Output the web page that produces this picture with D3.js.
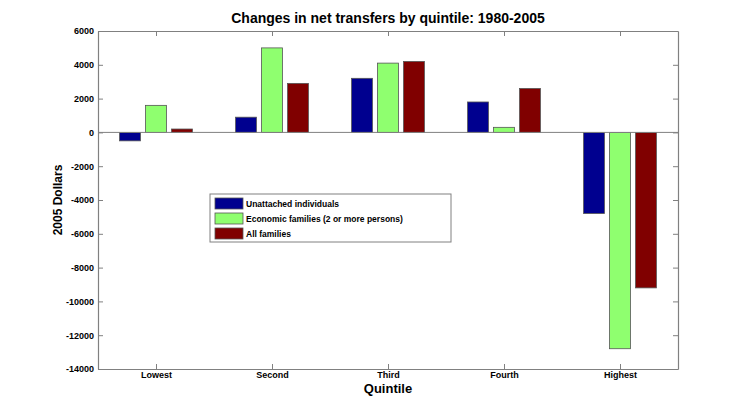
<!DOCTYPE html>
<html>
<head>
<meta charset="utf-8">
<script src="https://cdn.jsdelivr.net/npm/d3@7"></script>
<style>
  body { margin: 0; background: #fff; }
  text { font-family: "Liberation Sans", Arial, sans-serif; }
</style>
</head>
<body>
<svg id="chart" width="750" height="415"></svg>
<script>
// Data
const quintiles = ["Lowest", "Second", "Third", "Fourth", "Highest"];
const seriesNames = ["Unattached individuals", "Economic families (2 or more persons)", "All families"];
const unattached = [-500, 900, 3200, 1800, -4800];
const economicFamilies = [1600, 5000, 4100, 300, -12800];
const allFamilies = [200, 2900, 4200, 2600, -9200];
const yTicks = [6000, 4000, 2000, 0, -2000, -4000, -6000, -8000, -10000, -12000, -14000];
const colors = ["#00008f", "#8fff6f", "#800000"];

const seriesValues = [unattached, economicFamilies, allFamilies];

const svg = d3.select("#chart");
const margin = { top: 31, right: 72, bottom: 46, left: 98 },
    width = 750 - margin.left - margin.right,
    height = 415 - margin.top - margin.bottom;

const g = svg.append("g").attr("transform", `translate(${margin.left},${margin.top})`);

// scales: x runs 0.5 .. 5.5 like the original
const x = d3.scaleLinear().domain([0.5, 5.5]).range([0, width]);
const y = d3.scaleLinear().domain([-14000, 6000]).range([height, 0]);

// bar offsets inside a group (in quintile units)
const offset = d3.scalePoint().domain(d3.range(seriesNames.length)).range([-0.224, 0.224]);
const barW = x(0.68) - x(0.5);

const axisColor = "#808080";

// bars
seriesValues.forEach(function (vals, s) {
    g.append("g")
        .selectAll("rect")
        .data(vals)
        .enter()
        .append("rect")
        .attr("x", (d, i) => x(i + 1 + offset(s)) - barW / 2)
        .attr("y", (d) => y(Math.max(0, d)))
        .attr("width", barW)
        .attr("height", (d) => Math.abs(y(d) - y(0)))
        .attr("fill", colors[s])
        .attr("stroke", "#555")
        .attr("stroke-width", 0.8);
});

// zero baseline
g.append("line")
    .attr("x1", 0).attr("x2", width)
    .attr("y1", y(0)).attr("y2", y(0))
    .attr("stroke", axisColor).attr("stroke-width", 1);

// axes (ticks pointing inward on all four sides)
const xTicks = quintiles.map((d, i) => i + 1);
const styleAxis = function (sel) {
    sel.select(".domain").attr("stroke", axisColor).attr("stroke-width", 1.2);
    sel.selectAll(".tick line").attr("stroke", axisColor);
    sel.selectAll(".tick text")
        .attr("fill", "#000")
        .style("font-size", "9px")
        .style("font-weight", "bold");
};

g.append("g")
    .attr("transform", `translate(0,${height})`)
    .call(d3.axisBottom(x).tickValues(xTicks).tickFormat((d) => quintiles[d - 1]).tickSizeInner(-5).tickSizeOuter(0).tickPadding(3))
    .call(styleAxis);

g.append("g")
    .call(d3.axisTop(x).tickValues(xTicks).tickFormat("").tickSizeInner(-5).tickSizeOuter(0))
    .call(styleAxis);

g.append("g")
    .call(d3.axisLeft(y).tickValues(yTicks).tickFormat((d) => String(d)).tickSizeInner(-5).tickSizeOuter(0).tickPadding(4))
    .call(styleAxis);

g.append("g")
    .attr("transform", `translate(${width},0)`)
    .call(d3.axisRight(y).tickValues(yTicks).tickFormat("").tickSizeInner(-5).tickSizeOuter(0))
    .call(styleAxis);

// titles
svg.append("text")
    .attr("x", margin.left + width / 2)
    .attr("y", 23)
    .attr("text-anchor", "middle")
    .style("font-size", "14px")
    .style("font-weight", "bold")
    .text("Changes in net transfers by quintile: 1980-2005");

svg.append("text")
    .attr("x", margin.left + width / 2)
    .attr("y", 393)
    .attr("text-anchor", "middle")
    .style("font-size", "13px")
    .style("font-weight", "bold")
    .text("Quintile");

svg.append("text")
    .attr("transform", `translate(62,${margin.top + height / 2}) rotate(-90)`)
    .attr("text-anchor", "middle")
    .style("font-size", "12px")
    .style("font-weight", "bold")
    .text("2005 Dollars");

// legend
const legend = svg.append("g").attr("transform", "translate(210,194)");
legend.append("rect")
    .attr("width", 241).attr("height", 48)
    .attr("fill", "#fff")
    .attr("stroke", axisColor).attr("stroke-width", 1);

const items = legend.selectAll("g.item")
    .data(seriesNames)
    .enter()
    .append("g")
    .attr("class", "item")
    .attr("transform", (d, i) => `translate(5,${4 + i * 15})`);

items.append("rect")
    .attr("width", 28).attr("height", 11)
    .attr("fill", (d, i) => colors[i])
    .attr("stroke", "#555").attr("stroke-width", 0.8);

items.append("text")
    .attr("x", 31).attr("y", 9)
    .style("font-size", "8.5px")
    .style("font-weight", "bold")
    .text((d) => d);
</script>
</body>
</html>
